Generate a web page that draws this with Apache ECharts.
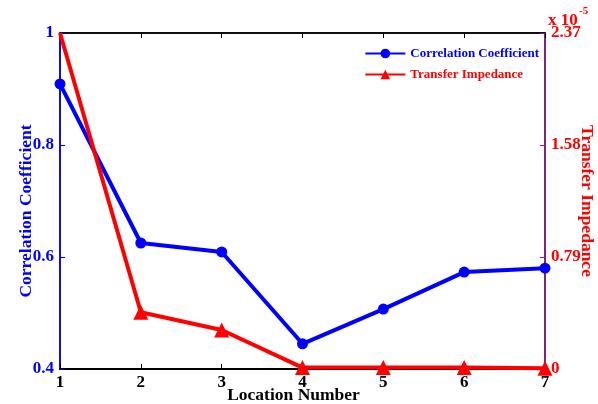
<!DOCTYPE html>
<html>
<head>
<meta charset="utf-8">
<script src="https://cdn.jsdelivr.net/npm/echarts@6/dist/echarts.min.js"></script>
<style>
  html, body { margin: 0; padding: 0; background: #fff; }
  #chart { width: 598px; height: 404px; }
</style>
</head>
<body>
<div id="chart"></div>
<script>
var locations = ['1', '2', '3', '4', '5', '6', '7'];
var correlation = [0.909, 0.625, 0.609, 0.445, 0.507, 0.573, 0.580];
// transfer impedance, in units of 1e-5
var impedance = [2.37, 0.40, 0.275, 0.01, 0.01, 0.01, 0.005];
var leftTicks = [0.4, 0.6, 0.8, 1];
var rightTicks = [0, 0.79, 1.58, 2.37];

var chart = echarts.init(document.getElementById('chart'));
var font = '"Liberation Serif", "Times New Roman", serif';

function tickFormatter(ticks) {
    return function (v) {
        var hit = ticks.find(function (t) { return Math.abs(t - v) < 1e-6; });
        return hit === undefined ? '' : String(hit);
    };
}

// first point sits in the corner, its marker is not drawn
var impedanceData = impedance.map(function (v, i) {
    return i === 0 ? { value: v, symbol: 'none' } : v;
});

chart.setOption({
    animation: false,
    textStyle: { fontFamily: font },
    grid: {
        left: 60,
        right: 53,
        top: 33,
        bottom: 35,
        outerBoundsMode: 'none',
        containLabel: false,
        show: true,
        borderColor: '#000',
        borderWidth: 1.5
    },
    legend: {
        orient: 'vertical',
        right: 54,
        top: 42,
        itemWidth: 40,
        itemHeight: 12,
        itemGap: 8,
        textStyle: { fontFamily: font, fontWeight: 'bold', fontSize: 13 },
        data: [
            { name: 'Correlation Coefficient', textStyle: { color: '#0000ff' } },
            { name: 'Transfer Impedance', textStyle: { color: '#ff0000' } }
        ]
    },
    graphic: [{
        type: 'text',
        left: 548,
        top: 12,
        style: { text: 'x 10', font: 'bold 17px ' + font, fill: '#ff0000' }
    }, {
        type: 'text',
        left: 579,
        top: 6,
        style: { text: '-5', font: 'bold 11px ' + font, fill: '#ff0000' }
    }],
    xAxis: [{
        type: 'category',
        data: locations,
        boundaryGap: false,
        name: 'Location Number',
        nameLocation: 'middle',
        nameGap: 17,
        nameMoveOverlap: false,
        nameTextStyle: { fontFamily: font, fontWeight: 'bold', fontSize: 17.5, color: '#000', padding: [0, 18, 0, 0] },
        axisLine: { lineStyle: { color: '#000', width: 2 } },
        axisTick: { inside: true, length: 5, lineStyle: { color: '#000' } },
        axisLabel: { fontFamily: font, fontWeight: 'bold', fontSize: 17, color: '#000', margin: 5 },
        splitLine: { show: false }
    }, {
        type: 'category',
        data: locations,
        boundaryGap: false,
        position: 'top',
        axisLine: { lineStyle: { color: '#000', width: 1.5 } },
        axisTick: { inside: true, length: 5, lineStyle: { color: '#000' } },
        axisLabel: { show: false },
        splitLine: { show: false }
    }],
    yAxis: [{
        type: 'value',
        min: 0.4,
        max: 1,
        interval: 0.2,
        name: 'Correlation Coefficient',
        nameLocation: 'middle',
        nameGap: 25,
        nameMoveOverlap: false,
        nameTextStyle: { fontFamily: font, fontWeight: 'bold', fontSize: 17.5, color: '#0000ff', padding: [0, 20, 0, 0] },
        axisLine: { show: true, lineStyle: { color: '#0000ff', width: 1.5 } },
        axisTick: { show: true, inside: true, length: 5, lineStyle: { color: '#0000ff' } },
        axisLabel: {
            fontFamily: font, fontWeight: 'bold', fontSize: 17, color: '#0000ff', margin: 6,
            formatter: tickFormatter(leftTicks)
        },
        splitLine: { show: false }
    }, {
        type: 'value',
        min: 0,
        max: 2.37,
        interval: 0.79,
        position: 'right',
        name: 'Transfer Impedance',
        nameLocation: 'middle',
        nameRotate: -90,
        nameGap: 33,
        nameMoveOverlap: false,
        nameTextStyle: { fontFamily: font, fontWeight: 'bold', fontSize: 17.5, color: '#ff0000' },
        axisLine: { show: true, lineStyle: { color: '#8e1f8e', width: 1.5 } },
        axisTick: { show: true, inside: true, length: 5, lineStyle: { color: '#8e1f8e' } },
        axisLabel: {
            fontFamily: font, fontWeight: 'bold', fontSize: 17, color: '#ff0000', margin: 6,
            formatter: tickFormatter(rightTicks)
        },
        splitLine: { show: false }
    }],
    series: [{
        name: 'Correlation Coefficient',
        type: 'line',
        yAxisIndex: 0,
        data: correlation,
        symbol: 'circle',
        symbolSize: 11,
        clip: false,
        itemStyle: { color: '#0000ff' },
        lineStyle: { color: '#0000ff', width: 4 }
    }, {
        name: 'Transfer Impedance',
        type: 'line',
        yAxisIndex: 1,
        data: impedanceData,
        symbol: 'triangle',
        symbolSize: 15,
        clip: false,
        itemStyle: { color: '#ff0000' },
        lineStyle: { color: '#ff0000', width: 4 }
    }]
});
</script>
</body>
</html>
